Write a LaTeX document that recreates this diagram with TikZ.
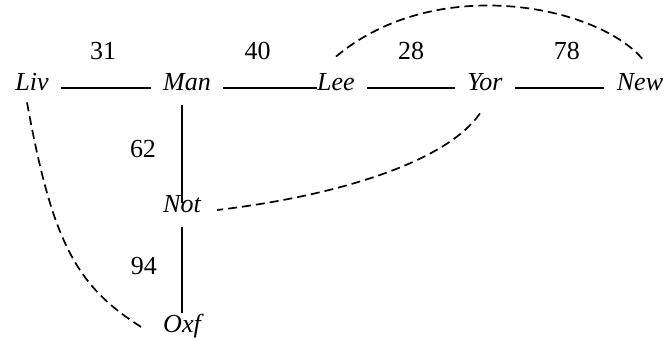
\documentclass[tikz,border=0pt]{standalone}
\usepackage{fontspec}
\setmainfont{Liberation Serif}
\usetikzlibrary{calc}

\begin{document}
\fontsize{13}{15}\selectfont
\begin{tikzpicture}[x=0.5pt,y=-0.5pt,
  city/.style={font=\itshape,inner xsep=6pt,inner ysep=1pt,text height=9pt,text depth=6pt},
  road/.style={line width=0.65pt},
  route/.style={line width=0.85pt,dash pattern=on 4.5pt off 2.5pt}]
  \useasboundingbox (0,0) rectangle (666,341);
  % towns
  \node[city] (liv) at (32,88) {Liv};
  \node[city] (man) at (187,88) {Man};
  \node[city] (lee) at (336,88) {Lee};
  \node[city] (yor) at (485,88) {Yor};
  \node[city] (new) at (640,88) {New};
  \node[city] (not) at (182,210) {Not};
  \node[city] (oxf) at (182,330) {Oxf};
  % roads
  \draw[road] (liv) -- (man) node[pos=.47,yshift=18.5pt] {31};
  \draw[road,shorten >=-6pt] (man) -- (lee) node[pos=.42,yshift=18.5pt] {40};
  \draw[road] (lee) -- (yor) node[midway,yshift=18.5pt] {28};
  \draw[road] (yor) -- (new) node[pos=.58,yshift=18.5pt] {78};
  \draw[road,shorten >=-5pt] (man.south -| not) -- (not) node[midway,xshift=-19.5pt] {62};
  \draw[road] (not) -- (oxf) node[pos=.45,xshift=-19pt] {94};
  % dashed routes
  \draw[route] ([yshift=7pt]lee.north) .. controls +(100,-84) and +(-45,-54) .. ([xshift=1.5pt,yshift=5.5pt]new.north);
  \draw[route] ([xshift=-2.5pt,yshift=-4pt]yor.south) .. controls +(-34,49) and +(119,-14) .. ([xshift=2pt]not.east);
  \draw[route] ([xshift=-2.5pt,yshift=1.5pt]liv.south) .. controls +(25,137) and +(-68,-42) .. ([xshift=-4pt,yshift=1pt]oxf.west);
\end{tikzpicture}
\end{document}
